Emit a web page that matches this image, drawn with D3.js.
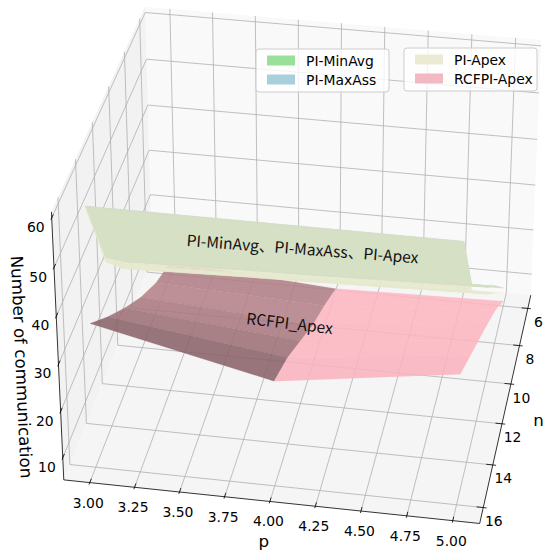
<!DOCTYPE html>
<html><head><meta charset="utf-8">
<script src="https://cdn.jsdelivr.net/npm/d3@7"></script>
<style>body{margin:0;background:#fff}svg{display:block}</style>
</head><body>
<svg id="chart" width="550" height="557"></svg>
<script>
// ---------------- data ----------------
const nValues = [6, 8, 10, 12, 14, 16];
const pValues = [3, 4, 5];
const pTicks = [3.00, 3.25, 3.50, 3.75, 4.00, 4.25, 4.50, 4.75, 5.00];
const nTicks = [6, 8, 10, 12, 14, 16];
const zTicks = [10, 20, 30, 40, 50, 60];
// one row per p value (3, 4, 5); columns follow nValues
const piMinAvg  = [[7.5, 16, 24.3, 32.5, 41.5, 60], [8.5, 17, 25, 33.5, 42.5, 60], [9.3, 18, 26, 34.5, 43, 60]];
const piMaxAss  = [[7.5, 16, 24.3, 32.5, 41.5, 60], [8.5, 17, 25, 33.5, 42.5, 60], [9.3, 18, 26, 34.5, 43, 60]];
const piApex    = [[6.5, 14.5, 22.8, 31, 40.5, 59.5], [7.3, 15.5, 23.5, 32, 41.5, 59.5], [8.2, 16.5, 24.5, 33, 42, 59.5]];
const rcfpiApex = [[8, 11.5, 16.5, 22.5, 29, 36], [5.5, 10, 14, 19, 24, 27.7], [6.3, 12.7, 18, 23, 28, 33]];
const legendNames = ["PI-MinAvg", "PI-MaxAss", "PI-Apex", "RCFPI-Apex"];

// ---------------- 3D perspective projection (matplotlib-style camera) ----------------
const nLim = [5.5, 16.5], pLim = [2.9, 5.1], zLim = [6.3, 60.1];
const ext = l => [l[0] - (l[1] - l[0]) / 48, l[1] + (l[1] - l[0]) / 48];
const nB = ext(nLim), pB = ext(pLim), zB = ext(zLim);
const kA = 1.8294640721620434 / Math.sqrt(41);
const ba = [4 * kA, 4 * kA, 3 * kA];
const wx = d3.scaleLinear().domain(nLim).range([0, ba[0]]);
const wy = d3.scaleLinear().domain(pLim).range([0, ba[1]]);
const wz = d3.scaleLinear().domain(zLim).range([0, ba[2]]);
const dot = (a, b) => a[0] * b[0] + a[1] * b[1] + a[2] * b[2];
const VIEW = { elev: 32.25, azim: 10, S: 3461.4, cx: 306.6, cy: 256.2 };
const cam = (() => {
  const e = VIEW.elev * Math.PI / 180, a = VIEW.azim * Math.PI / 180;
  const w = [Math.cos(e) * Math.cos(a), Math.cos(e) * Math.sin(a), Math.sin(e)];
  const R = [ba[0] / 2, ba[1] / 2, ba[2] / 2];
  const eye = [R[0] + 10 * w[0], R[1] + 10 * w[1], R[2] + 10 * w[2]];
  const u = [-Math.sin(a), Math.cos(a), 0];
  const v = [w[1] * u[2] - w[2] * u[1], w[2] * u[0] - w[0] * u[2], w[0] * u[1] - w[1] * u[0]];
  return { u, v, w, eye };
})();
function proj(n, p, z) {
  const P = [wx(n), wy(p), wz(z)];
  const d = [P[0] - cam.eye[0], P[1] - cam.eye[1], P[2] - cam.eye[2]];
  const zv = dot(cam.w, d);
  return [VIEW.cx + VIEW.S * dot(cam.u, d) / (-zv), VIEW.cy - VIEW.S * dot(cam.v, d) / (-zv), -zv];
}
const line = d3.line();
const P2 = (n, p, z) => proj(n, p, z).slice(0, 2);
const poly = pts => "M" + pts.map(d => d[0].toFixed(2) + "," + d[1].toFixed(2)).join("L") + "Z";
const light = [-0.6667, -0.6667, 0.3333];

const svg = d3.select("#chart");

// panes
const gP = svg.append("g");
gP.append("path").attr("d", poly([P2(nB[0], pB[0], zB[0]), P2(nB[0], pB[1], zB[0]), P2(nB[0], pB[1], zB[1]), P2(nB[0], pB[0], zB[1])])).attr("fill", "#f9f9f9");
gP.append("path").attr("d", poly([P2(nB[0], pB[0], zB[0]), P2(nB[1], pB[0], zB[0]), P2(nB[1], pB[0], zB[1]), P2(nB[0], pB[0], zB[1])])).attr("fill", "#f2f2f2");
gP.append("path").attr("d", poly([P2(nB[0], pB[0], zB[0]), P2(nB[0], pB[1], zB[0]), P2(nB[1], pB[1], zB[0]), P2(nB[1], pB[0], zB[0])])).attr("fill", "#f5f5f5");

// grid
const gG = svg.append("g").attr("fill", "none").attr("stroke", "#b0b0b0").attr("stroke-width", 0.8);
pTicks.forEach(p => gG.append("path").attr("d", line([P2(nB[1], p, zB[0]), P2(nB[0], p, zB[0]), P2(nB[0], p, zB[1])])));
nTicks.forEach(n => gG.append("path").attr("d", line([P2(n, pB[1], zB[0]), P2(n, pB[0], zB[0]), P2(n, pB[0], zB[1])])));
zTicks.forEach(z => gG.append("path").attr("d", line([P2(nB[1], pB[0], z), P2(nB[0], pB[0], z), P2(nB[0], pB[1], z)])));

// axis lines and ticks
const gA = svg.append("g").attr("stroke", "#000").attr("fill", "none").attr("stroke-width", 0.8);
gA.append("path").attr("d", line([P2(nB[1], pB[0], zB[0]), P2(nB[1], pB[1], zB[0])]));
gA.append("path").attr("d", line([P2(nB[0], pB[1], zB[0]), P2(nB[1], pB[1], zB[0])]));
gA.append("path").attr("d", line([P2(nB[1], pB[0], zB[0]), P2(nB[1], pB[0], zB[1])]));
const dn = (nLim[1] - nLim[0]) / 12, dp = (pLim[1] - pLim[0]) / 12;
pTicks.forEach(p => gA.append("path").attr("d", line([P2(nB[1] + 0.1 * dn, p, zB[0]), P2(nB[1] - 0.2 * dn, p, zB[0])])));
nTicks.forEach(n => gA.append("path").attr("d", line([P2(n, pB[1] + 0.1 * dp, zB[0]), P2(n, pB[1] - 0.2 * dp, zB[0])])));
zTicks.forEach(z => gA.append("path").attr("d", line([P2(nB[1] + 0.1 * dn, pB[0], z), P2(nB[1] - 0.2 * dn, pB[0], z)])));

// tick labels
const gT = svg.append("g").attr("font-family", "DejaVu Sans").attr("font-size", 13.9).attr("fill", "#000");
const fmtP = d3.format(".2f");
pTicks.forEach(p => { const q = P2(nB[1], p, zB[0]);
  gT.append("text").attr("x", q[0] - 1.5).attr("y", q[1] + 25).attr("text-anchor", "middle").text(fmtP(p)); });
nTicks.forEach(n => { const q = P2(n, pB[1], zB[0]);
  gT.append("text").attr("x", q[0] + 10.5).attr("y", q[1] + 18.5).attr("text-anchor", "middle").text(n); });
zTicks.forEach(z => { const q = P2(nB[1], pB[0], z);
  gT.append("text").attr("x", q[0] - 7).attr("y", q[1] + 14).attr("text-anchor", "end").text(z); });

// axis labels
const gL = svg.append("g").attr("font-family", "DejaVu Sans").attr("font-size", 16.7).attr("fill", "#000");
{ const q = P2(nB[1], 4, zB[0]); gL.append("text").attr("x", q[0] - 6).attr("y", q[1] + 46).attr("text-anchor", "middle").text("p"); }
{ const q = P2(11, pB[1], zB[0]); gL.append("text").attr("x", q[0] + 32).attr("y", q[1] + 22.5).attr("text-anchor", "middle").text("n"); }
{ const q = P2(nB[1], pB[0], (zB[0] + zB[1]) / 2);
  gL.append("text").attr("transform", `translate(${q[0] - 42},${q[1] + 18}) rotate(87.4)`).attr("text-anchor", "middle").text("Number of communication"); }

// surfaces (faces depth-sorted within each surface, matplotlib-like shading)
function drawSurface(vals, rgb, opacity, shaded) {
  const faces = [];
  for (let i = 0; i < pValues.length - 1; i++) for (let j = 0; j < nValues.length - 1; j++) {
    const q = [[nValues[j], pValues[i], vals[i][j]], [nValues[j + 1], pValues[i], vals[i][j + 1]],
               [nValues[j + 1], pValues[i + 1], vals[i + 1][j + 1]], [nValues[j], pValues[i + 1], vals[i + 1][j]]];
    const pr = q.map(d => proj(...d));
    const depth = d3.mean(pr, d => d[2]);
    let f = 1;
    if (shaded) {
      const gn = ((vals[i][j + 1] - vals[i][j]) + (vals[i + 1][j + 1] - vals[i + 1][j])) / 2 / (nValues[j + 1] - nValues[j]);
      const gp = ((vals[i + 1][j] - vals[i][j]) + (vals[i + 1][j + 1] - vals[i][j + 1])) / 2 / (pValues[i + 1] - pValues[i]);
      const L = Math.hypot(gn, gp, 1);
      f = 0.65 + 0.35 * ((-gn * light[0] - gp * light[1] + light[2]) / L);
    }
    faces.push({ pr, depth, col: d3.rgb(rgb[0] * f, rgb[1] * f, rgb[2] * f).toString() });
  }
  faces.sort((a, b) => b.depth - a.depth);
  svg.append("g").selectAll("path").data(faces).join("path")
    .attr("d", f => poly(f.pr)).attr("fill", f => f.col).attr("fill-opacity", opacity)
    .attr("stroke", f => f.col).attr("stroke-opacity", opacity * 0.5).attr("stroke-width", 0.4);
}
drawSurface(rcfpiApex, [255, 182, 193], 0.87, true);
drawSurface(piMaxAss, [200, 216, 212], 0.9, false);
drawSurface(piApex, [231, 233, 205], 0.95, false);
drawSurface(piMinAvg, [212, 223, 197], 0.94, false);

// in-plot labels
const gX = svg.append("g").attr("font-family", "Noto Sans CJK SC").attr("font-size", 15.6).attr("fill", "#111");
{ const q = P2(16, 4.15, 55.7); gX.append("text").attr("transform", `translate(${q[0] + 1},${q[1]}) rotate(4.3)`).attr("text-anchor", "middle").attr("dominant-baseline", "central").text("PI-MinAvg、PI-MaxAss、PI-Apex"); }
{ const q = P2(15, 4.05, 36); gX.append("text").attr("transform", `translate(${q[0]},${q[1]}) rotate(6.7)`).attr("text-anchor", "middle").attr("dominant-baseline", "central").text("RCFPI_Apex"); }

// legends
const legColors = ["#9ae09a", "#aacfdc", "#ebebd3", "#f3b9c3"];
function legend(x, y, items) {
  const g = svg.append("g").attr("transform", `translate(${x},${y})`);
  g.append("rect").attr("width", 133).attr("height", 43).attr("rx", 3).attr("fill", "#fff").attr("fill-opacity", 0.8).attr("stroke", "#cccccc");
  items.forEach((k, i) => {
    g.append("rect").attr("x", 11).attr("y", 6.5 + i * 19).attr("width", 28).attr("height", 10).attr("fill", legColors[k]);
    g.append("text").attr("x", 50).attr("y", 11.5 + i * 19).attr("dominant-baseline", "central").attr("font-family", "DejaVu Sans").attr("font-size", 13.9).text(legendNames[k]);
  });
}
legend(256, 49, [0, 1]);
legend(404, 48, [2, 3]);
</script>
</body></html>
